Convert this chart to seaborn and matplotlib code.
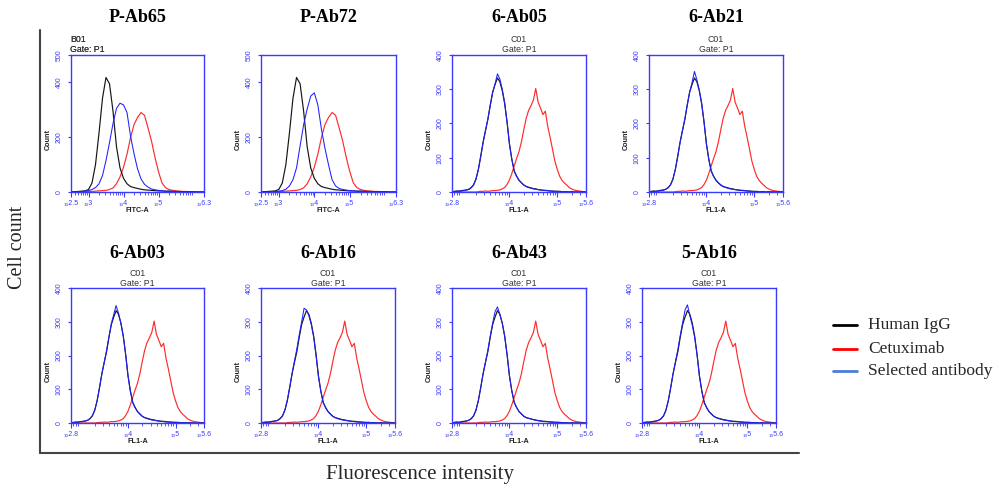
import numpy as np
import pandas as pd
import matplotlib
matplotlib.use("Agg")
import matplotlib.pyplot as plt
import seaborn as sns
from matplotlib.lines import Line2D
from matplotlib.ticker import NullFormatter, FixedLocator

# ---------------- data (log10 fluorescence bins and cell counts) ----------------
P_BINS = [2.5, 2.6, 2.7, 2.8, 2.9, 3.0, 3.1, 3.2, 3.3, 3.4,
          3.5, 3.6, 3.7, 3.8, 3.9, 4.0, 4.1, 4.2, 4.3, 4.4,
          4.5, 4.6, 4.7, 4.8, 4.9, 5.0, 5.1, 5.2, 5.3, 5.4,
          5.5, 5.6, 5.7, 5.8, 5.9, 6.0, 6.1, 6.2, 6.3]
P_IGG = [0, 1, 2, 3, 4, 9, 33, 100, 215, 342,
         418, 395, 295, 165, 88, 50, 30, 20, 16, 13,
         10, 8, 7, 6, 5, 4, 4, 3, 3, 2,
         2, 2, 1, 1, 1, 1, 0, 0, 0]
P_CETUX = [0, 0, 0, 0, 1, 2, 2, 3, 4, 5,
           6, 9, 15, 30, 55, 90, 138, 198, 246, 272,
           290, 280, 234, 186, 126, 74, 33, 16, 9, 6,
           4, 3, 2, 2, 1, 1, 0, 0, 0]
SEL_PAB65 = [0, 0, 1, 2, 3, 5, 9, 16, 30, 60,
             115, 180, 250, 305, 324, 318, 290, 205, 140, 85,
             48, 28, 18, 11, 8, 6, 4, 3, 3, 2,
             2, 1, 1, 1, 0, 1, 0, 0, 0]
SEL_PAB72 = [0, 0, 0, 1, 2, 3, 5, 10, 22, 45,
             88, 168, 246, 303, 350, 362, 318, 230, 160, 100,
             45, 22, 13, 9, 7, 5, 4, 3, 3, 2,
             2, 1, 1, 1, 1, 0, 0, 0, 0]

C_BINS = [2.80, 2.85, 2.90, 2.95, 3.00, 3.05, 3.10, 3.15, 3.20, 3.25,
          3.30, 3.35, 3.40, 3.45, 3.50, 3.55, 3.60, 3.65, 3.70, 3.75,
          3.80, 3.85, 3.90, 3.95, 4.00, 4.05, 4.10, 4.15, 4.20, 4.25,
          4.30, 4.35, 4.40, 4.45, 4.50, 4.55, 4.60, 4.65, 4.70, 4.75,
          4.80, 4.85, 4.90, 4.95, 5.00, 5.05, 5.10, 5.15, 5.20, 5.25,
          5.30, 5.35, 5.40, 5.45, 5.50, 5.55, 5.60]
C_IGG = [0, 2, 3, 2, 4, 5, 6, 8, 13, 21,
         38, 66, 105, 146, 180, 212, 255, 292, 314, 333,
         322, 296, 258, 204, 140, 95, 61, 46, 34, 27,
         20, 16, 14, 12, 10, 9, 7, 6, 5, 5,
         4, 3, 3, 2, 2, 2, 1, 1, 1, 0,
         1, 0, 0, 0, 0, 0, 0]
C_CETUX = [0, 0, 0, 0, 0, 0, 0, 0, 0, 0,
           0, 1, 2, 2, 3, 2, 3, 4, 4, 5,
           6, 9, 13, 22, 35, 54, 76, 98, 118, 146,
           182, 215, 238, 252, 268, 302, 262, 245, 226, 236,
           192, 160, 125, 90, 66, 46, 34, 26, 20, 13,
           9, 6, 4, 3, 2, 1, 0]
SEL_6AB05 = [0, 1, 2, 3, 3, 4, 6, 7, 12, 20,
             36, 64, 102, 144, 178, 214, 252, 290, 316, 345,
             330, 300, 262, 206, 142, 96, 62, 46, 35, 27,
             21, 16, 13, 11, 9, 8, 7, 6, 5, 4,
             4, 3, 2, 2, 2, 1, 1, 1, 1, 0,
             0, 0, 0, 0, 0, 0, 0]
SEL_6AB21 = [0, 1, 2, 2, 3, 4, 5, 8, 12, 21,
             37, 65, 103, 145, 179, 215, 254, 292, 320, 352,
             328, 298, 260, 205, 141, 95, 62, 45, 35, 26,
             21, 16, 13, 11, 9, 8, 7, 6, 5, 4,
             4, 3, 2, 2, 1, 1, 1, 1, 0, 0,
             0, 0, 0, 0, 0, 0, 0]
SEL_6AB03 = [0, 1, 2, 3, 4, 4, 6, 8, 13, 22,
             38, 66, 104, 146, 180, 216, 256, 295, 322, 348,
             325, 296, 258, 204, 140, 94, 60, 45, 34, 26,
             20, 16, 13, 11, 9, 8, 7, 6, 5, 4,
             3, 3, 2, 2, 2, 1, 1, 1, 1, 0,
             0, 0, 0, 0, 0, 0, 0]
SEL_6AB16 = [0, 1, 2, 3, 3, 5, 6, 8, 13, 22,
             39, 68, 106, 148, 184, 220, 262, 300, 340, 335,
             318, 292, 255, 200, 138, 94, 60, 45, 34, 26,
             20, 16, 13, 11, 9, 8, 7, 6, 5, 4,
             3, 3, 2, 2, 1, 1, 1, 1, 0, 0,
             0, 0, 0, 0, 0, 0, 0]
SEL_6AB43 = [0, 1, 2, 2, 3, 4, 6, 8, 12, 21,
             37, 66, 104, 146, 181, 216, 258, 296, 330, 344,
             322, 296, 258, 204, 140, 95, 61, 46, 34, 27,
             20, 16, 14, 12, 10, 8, 7, 6, 5, 4,
             4, 3, 2, 2, 2, 1, 1, 1, 0, 0,
             0, 0, 0, 0, 0, 0, 0]
SEL_5AB16 = [0, 1, 2, 3, 3, 4, 6, 8, 13, 21,
             38, 67, 105, 147, 182, 218, 260, 298, 335, 350,
             318, 290, 254, 202, 139, 94, 61, 45, 34, 26,
             20, 16, 13, 11, 9, 8, 7, 6, 5, 4,
             4, 3, 2, 2, 2, 1, 1, 1, 1, 0,
             0, 0, 0, 0, 0, 0, 0]

TITLES = ["P-Ab65", "P-Ab72", "6-Ab05", "6-Ab21",
          "6-Ab03", "6-Ab16", "6-Ab43", "5-Ab16"]
SELECTED = [SEL_PAB65, SEL_PAB72, SEL_6AB05, SEL_6AB21,
            SEL_6AB03, SEL_6AB16, SEL_6AB43, SEL_5AB16]
WELLS = ["B01", "B01", "C01", "C01", "C01", "C01", "C01", "C01"]
LEGEND_LABELS = ["Human IgG", "Cetuximab", "Selected antibody"]

# ---------------- layout ----------------
W, H = 999, 488
BOXES = [(71, 55, 204, 192), (261, 55, 396, 192), (452, 55, 586, 192), (649, 55, 783, 192),
         (71, 288, 204, 423), (261, 288, 395, 423), (452, 288, 586, 423), (642, 288, 776, 423)]

sns.set_style("white")
plt.rcParams["font.family"] = ["Liberation Sans", "DejaVu Sans"]
SERIF = ["Liberation Serif", "DejaVu Serif"]

AX_BLUE = "#3b3bff"
C_BLACK = "#151515"
C_RED = "#ff2b2b"
C_BLUE = "#1f1fff"

fig = plt.figure(figsize=(W / 100, H / 100), dpi=100)


def px(x, y):
    return x / W, 1 - y / H


for title, sel, well, box in zip(TITLES, SELECTED, WELLS, BOXES):
    x0, y0, x1, y1 = box
    bw, bh = x1 - x0, y1 - y0
    ax = fig.add_axes([x0 / W, 1 - y1 / H, bw / W, bh / H])
    is_p = well == "B01"
    bins = P_BINS if is_p else C_BINS
    igg = P_IGG if is_p else C_IGG
    cet = P_CETUX if is_p else C_CETUX
    n = len(bins)
    df = pd.DataFrame({
        "intensity": np.power(10.0, np.array(list(bins) * 3)),
        "count": list(cet) + list(igg) + list(sel),
        "series": [LEGEND_LABELS[1]] * n + [LEGEND_LABELS[0]] * n + [LEGEND_LABELS[2]] * n,
    })
    ax.set_xscale("log")
    for name, col, lw in [(LEGEND_LABELS[1], C_RED, 0.85),
                          (LEGEND_LABELS[0], C_BLACK, 0.85),
                          (LEGEND_LABELS[2], C_BLUE, 0.75)]:
        sub = df[df["series"] == name]
        sns.lineplot(data=sub, x="intensity", y="count", ax=ax, color=col,
                     lw=lw, estimator=None, legend=False)

    if is_p:
        lo, hi, ymax = 2.5, 6.3, 500
        yt = [0, 200, 400, 500]
        xt = [2.5, 3, 4, 5, 6.3]
        xlab = "FITC-A"
    else:
        lo, hi, ymax = 2.8, 5.6, 400
        yt = [0, 100, 200, 300, 400]
        xt = [2.8, 4, 5, 5.6]
        xlab = "FL1-A"
    ax.set_xlim(10 ** lo, 10 ** hi)
    ax.set_ylim(0, ymax)

    for s in ax.spines.values():
        s.set_visible(True)
        s.set_color(AX_BLUE)
        s.set_linewidth(1.0)

    minor = [k * 10 ** d for d in range(int(np.floor(lo)), int(np.ceil(hi)) + 1)
             for k in range(2, 10) if 10 ** lo < k * 10 ** d < 10 ** hi]
    ax.xaxis.set_major_locator(FixedLocator([10 ** v for v in xt]))
    ax.set_xticklabels(["\u2081\u2080" + str(v) for v in xt])
    ax.xaxis.set_minor_locator(FixedLocator(minor))
    ax.xaxis.set_minor_formatter(NullFormatter())
    ax.set_yticks(yt)
    ax.set_yticklabels([str(v) for v in yt], rotation=90, va="center", ha="center")

    ax.tick_params(axis="x", which="major", bottom=True, direction="out", length=3.5, width=0.8,
                   color=AX_BLUE, labelcolor=AX_BLUE, labelsize=5, pad=2.5)
    ax.tick_params(axis="x", which="minor", bottom=True, direction="out", length=2.2, width=0.6,
                   color=AX_BLUE)
    ax.tick_params(axis="y", which="major", left=True, direction="out", length=2, width=0.8,
                   color=AX_BLUE, labelcolor=AX_BLUE, labelsize=5, pad=6.5)
    ax.tick_params(axis="y", which="minor", left=False)

    ax.set_xlabel(xlab, fontsize=5.2, color="#222222", fontweight="bold")
    ax.xaxis.set_label_coords(0.5, -15 / bh)
    ax.set_ylabel("Count", fontsize=5.2, color="#222222", fontweight="bold")
    ax.yaxis.set_label_coords(-19 / bw, 0.38)

    # header text
    if is_p:
        fig.text(*px(70, y0 - 15), well, fontsize=6.3, color="#333333", ha="left", va="center")
        fig.text(*px(70, y0 - 5), "Gate: P1", fontsize=6.3, color="#333333", ha="left", va="center")
    else:
        cx = (x0 + x1) / 2
        fig.text(*px(cx, y0 - 15), well, fontsize=6.3, color="#333333", ha="center", va="center")
        fig.text(*px(cx, y0 - 5), "Gate: P1", fontsize=6.3, color="#333333", ha="center", va="center")

    # panel title
    ty = 18 if y0 < 200 else 253
    fig.text(*px((x0 + x1) / 2, ty), title, fontsize=13, fontweight="bold",
             family=SERIF, ha="center", va="center", color="black")

# outer frame (L shape)
fig.add_artist(Line2D([39.5 / W, 39.5 / W], [1 - 30 / H, 1 - 453 / H], color="#444444", lw=1.5))
fig.add_artist(Line2D([39.5 / W, 799 / W], [1 - 453 / H, 1 - 453 / H], color="#444444", lw=1.5))

fig.text(*px(18, 247), "Cell count", rotation=90, fontsize=14.5, family=SERIF,
         ha="center", va="center")
fig.text(*px(420, 475), "Fluorescence intensity", fontsize=15, family=SERIF,
         ha="center", va="center")

# legend
LEG_COLORS = ["#000000", "#ff0000", "#4a7fd8"]
for lab, col, yy in zip(LEGEND_LABELS, LEG_COLORS, [325, 349, 371]):
    fig.add_artist(Line2D([833 / W, 857 / W], [1 - yy / H, 1 - yy / H], color=col, lw=2.0))
    fig.text(*px(868, yy), lab, fontsize=12.5, family=SERIF, ha="left", va="center")

fig.savefig("out.png", dpi=100)
